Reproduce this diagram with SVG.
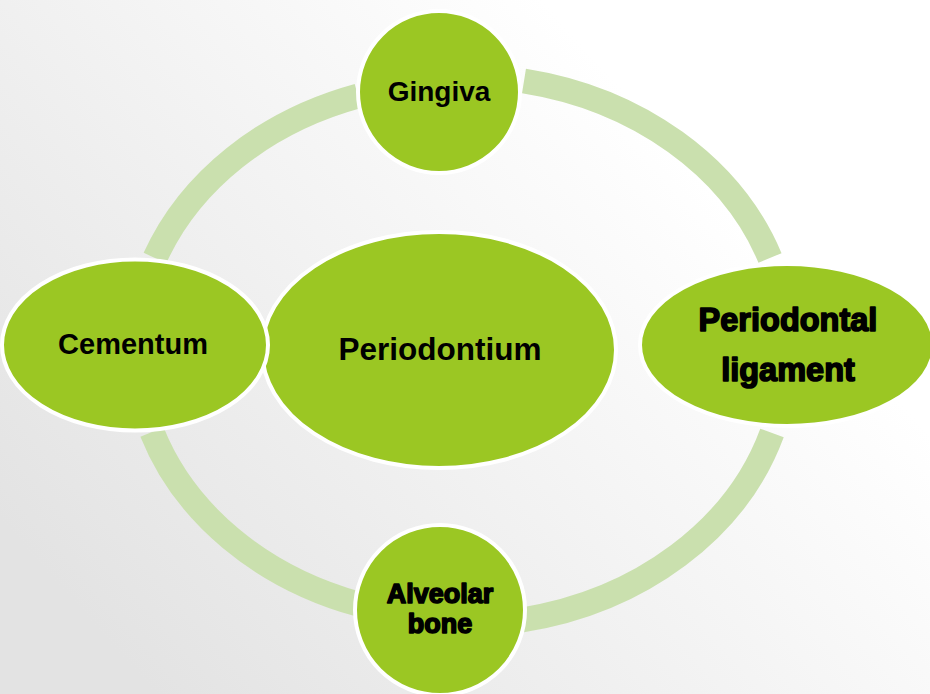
<svg xmlns="http://www.w3.org/2000/svg" width="930" height="694" viewBox="0 0 930 694">
  <defs>
    <linearGradient id="bg" x1="0" y1="0.75" x2="0.75" y2="0.25">
      <stop offset="0" stop-color="#e3e3e3"/>
      <stop offset="1" stop-color="#ffffff"/>
    </linearGradient>
  </defs>
  <style>
    .ring { fill: none; stroke: #cae0ae; stroke-width: 25; stroke-linecap: butt; }
    .node { fill: #9bc723; stroke: #ffffff; stroke-width: 4; }
    .lbl { font-family: "Liberation Sans", Arial, sans-serif; font-weight: bold; fill: #000000; text-anchor: middle; }
    .heavy { stroke: #000000; stroke-width: 1.6; stroke-linejoin: round; }
  </style>
  <rect x="0" y="0" width="930" height="694" fill="url(#bg)"/>
  <g id="connectors">
    <path class="ring" d="M155,258 A325,272 0 0 1 358,96"/>
    <path class="ring" d="M524,81 A325,272 0 0 1 770,258"/>
    <path class="ring" d="M772,433 A325,272 0 0 1 522,620"/>
    <path class="ring" d="M358,604 A325,272 0 0 1 152,432"/>
  </g>
  <g id="periodontium">
    <ellipse class="node" cx="439" cy="350" rx="177" ry="118"/>
    <text class="lbl" x="440" y="360" font-size="31.5">Periodontium</text>
  </g>
  <g id="gingiva">
    <circle class="node" cx="439" cy="92" r="81"/>
    <text class="lbl" x="439" y="101" font-size="28">Gingiva</text>
  </g>
  <g id="cementum">
    <ellipse class="node" cx="135" cy="345" rx="133" ry="85.5"/>
    <text class="lbl" x="133" y="354" font-size="29">Cementum</text>
  </g>
  <g id="periodontal-ligament">
    <ellipse class="node" cx="787" cy="345" rx="147" ry="81"/>
    <text class="lbl heavy" x="788" y="331" font-size="32.5">Periodontal</text>
    <text class="lbl heavy" x="788" y="381" font-size="32.5">ligament</text>
  </g>
  <g id="alveolar-bone">
    <circle class="node" cx="440" cy="610" r="85"/>
    <text class="lbl heavy" x="440" y="603" font-size="27">Alveolar</text>
    <text class="lbl heavy" x="440" y="633" font-size="27">bone</text>
  </g>
</svg>
